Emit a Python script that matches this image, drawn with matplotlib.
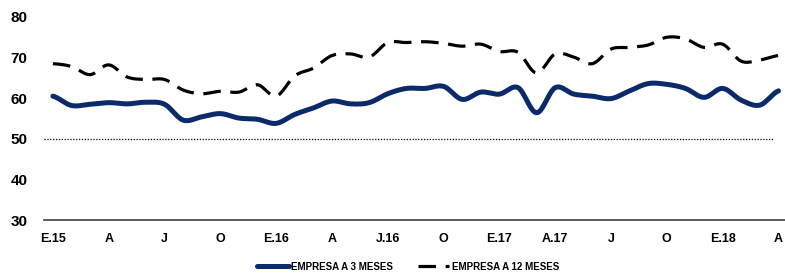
import numpy as np
import matplotlib
matplotlib.use('Agg')
import matplotlib.pyplot as plt

plt.rcParams['font.family'] = ['Liberation Sans Narrow', 'Liberation Sans', 'DejaVu Sans']

# monthly data, Jan 2015 - Apr 2018
empresa_3m = [60.5, 58.2, 58.5, 58.9, 58.6, 59.0, 58.5, 54.6, 55.4, 56.2,
              55.1, 54.8, 53.8, 56.0, 57.6, 59.3, 58.6, 58.9, 61.1, 62.4,
              62.4, 62.9, 59.7, 61.5, 61.0, 62.6, 56.4, 62.6, 61.0, 60.5,
              59.9, 61.8, 63.6, 63.4, 62.4, 60.2, 62.4, 59.5, 58.3, 61.8]
empresa_12m = [68.5, 67.8, 65.8, 68.2, 65.2, 64.6, 64.6, 62.0, 61.1, 61.7,
               61.5, 63.3, 60.5, 65.5, 67.4, 70.5, 70.9, 70.1, 73.7, 73.7,
               73.9, 73.5, 72.8, 73.3, 71.5, 71.3, 66.2, 70.9, 70.1, 68.5,
               72.1, 72.5, 73.1, 75.0, 74.6, 72.5, 73.3, 69.1, 69.4, 70.5]
tick_labels = ['E.15', 'A', 'J', 'O', 'E.16', 'A', 'J.16', 'O',
               'E.17', 'A.17', 'J', 'O', 'E.18', 'A']


def smooth(y, n=12):
    # Catmull-Rom curve through the points, like Excel's smoothed line
    y = np.asarray(y, float)
    p = np.concatenate([[y[0]], y, [y[-1]]])
    xs, ys = [], []
    t = np.linspace(0, 1, n, endpoint=False)
    for i in range(len(y) - 1):
        p0, p1, p2, p3 = p[i], p[i + 1], p[i + 2], p[i + 3]
        seg = 0.5 * ((2 * p1) + (-p0 + p2) * t + (2 * p0 - 5 * p1 + 4 * p2 - p3) * t ** 2
                     + (-p0 + 3 * p1 - 3 * p2 + p3) * t ** 3)
        xs.extend(i + t)
        ys.extend(seg)
    xs.append(len(y) - 1)
    ys.append(y[-1])
    return np.array(xs), np.array(ys)


fig = plt.figure(figsize=(7.85, 2.78), dpi=100)
ax = fig.add_axes([0.056, 0.2086, 0.944, 0.7304])

x3, y3 = smooth(empresa_3m)
x12, y12 = smooth(empresa_12m)
ax.plot(x3, y3, color='#0b2a6a', lw=3.6, solid_capstyle='round',
        label='EMPRESA A 3 MESES')
ax.plot(x12, y12, color='black', lw=2.3, dashes=(5.5, 3),
        label='EMPRESA A 12 MESES')
ax.plot([-0.48, 38.7], [50, 50], color='black', lw=0.9, ls=(0, (1, 1.3)))

ax.set_ylim(30, 80)
ax.set_xlim(-0.48, 39.35)
ax.set_yticks([30, 40, 50, 60, 70, 80])
ax.set_xticks(np.arange(0, 40, 3))
ax.set_xticklabels(tick_labels)
for s in ['top', 'right', 'left']:
    ax.spines[s].set_visible(False)
ax.spines['bottom'].set_color('#404040')
ax.spines['bottom'].set_linewidth(1.2)
ax.tick_params(axis='both', length=0)
ax.tick_params(axis='y', labelsize=11, pad=12)
ax.tick_params(axis='x', labelsize=9, pad=9)
for lab in ax.get_xticklabels() + ax.get_yticklabels():
    lab.set_fontweight('bold')

leg = fig.legend(loc='center', bbox_to_anchor=(0.52, 0.04), ncol=2,
                 frameon=False, fontsize=7, handlelength=3.2,
                 columnspacing=2.5, handletextpad=0.3)
for t in leg.get_texts():
    t.set_fontweight('bold')

fig.savefig('out.png', dpi=100)
